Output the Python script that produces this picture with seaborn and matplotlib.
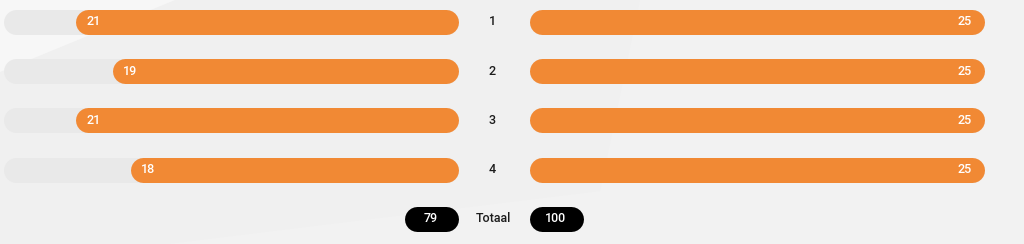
import numpy as np
import pandas as pd
import matplotlib
matplotlib.use("Agg")
import matplotlib.pyplot as plt
from matplotlib.patches import Polygon
from matplotlib.lines import Line2D
from matplotlib.transforms import IdentityTransform
import seaborn as sns

# ---- data ----
rondes = ["1", "2", "3", "4"]
thuis = [21, 19, 21, 18]
uit = [25, 25, 25, 25]
max_score = 25
totaal_label = "Totaal"
totaal_thuis = 79
totaal_uit = 100

# ---- style ----
ORANGE = "#f18934"
TRACK = "#e9e9e9"
BG = "#f2f2f2"
DARK = "#1c1c1c"
FONT = ["Roboto", "DejaVu Sans"]

sns.set_theme(style="white")
plt.rcParams["font.family"] = FONT

W, H = 1024, 244
DPI = 100
fig = plt.figure(figsize=(W / DPI, H / DPI), dpi=DPI)
fig.patch.set_facecolor(BG)

# subtle background facets
fig.patches.append(Polygon(
    np.array([[0, 0], [167, 0], [600, 53], [640, 244], [175, 244], [0, 172]]) / [W, H],
    closed=True, transform=fig.transFigure, facecolor="#f0f0f0", edgecolor="none", zorder=-10))
fig.patches.append(Polygon(
    np.array([[0, 172], [175, 244], [0, 244]]) / [W, H],
    closed=True, transform=fig.transFigure, facecolor="#f7f7f7", edgecolor="none", zorder=-9))

row_px = 49.3
first_px = 21.8
bar_px = 25
ytop = -first_px / row_px
ybot = (H - first_px) / row_px
bar_w = bar_px / row_px

df = pd.DataFrame({"ronde": rondes, "thuis": thuis, "uit": uit,
                   "max": [max_score] * len(rondes)})

axL = fig.add_axes([3 / W, 0, 455 / W, 1])
axR = fig.add_axes([529 / W, 0, 455 / W, 1])

ident = IdentityTransform()


def pill(x0, x1, yc, hpx, color, z):
    """Pill with semicircular ends in display (pixel) coords."""
    l, r = min(x0, x1), max(x0, x1)
    rad = hpx / 2
    return Line2D([l + rad, r - rad], [yc, yc], transform=ident,
                  linewidth=hpx * 72 / DPI, color=color,
                  solid_capstyle="round", zorder=z, clip_on=False)


for ax, col, inv in [(axL, "thuis", True), (axR, "uit", False)]:
    sns.barplot(data=df, x="max", y="ronde", orient="h", color=TRACK,
                width=bar_w, saturation=1, ax=ax)
    sns.barplot(data=df, x=col, y="ronde", orient="h", color=ORANGE,
                width=bar_w, saturation=1, ax=ax)
    ax.set_xlim((max_score, 0) if inv else (0, max_score))
    ax.set_ylim(ybot, ytop)
    ax.axis("off")
    ax.patch.set_alpha(0)

    rects = list(ax.patches)
    for i, p in enumerate(rects):
        x, y, w, h = p.get_x(), p.get_y(), p.get_width(), p.get_height()
        (px0, py0) = ax.transData.transform((x, y))
        (px1, py1) = ax.transData.transform((x + w, y + h))
        ln = pill(px0, px1, (py0 + py1) / 2, abs(py1 - py0), p.get_facecolor(),
                  2 + (i >= len(rondes)))
        p.remove()
        ax.add_line(ln)

    vals = df[col].tolist()
    for i, v in enumerate(vals):
        if inv:
            ax.annotate(str(v), (v, i), xytext=(7.5, 0), textcoords="offset points",
                        ha="left", va="center", color="white", fontsize=9,
                        fontweight="medium", zorder=5)
        else:
            ax.annotate(str(v), (v, i), xytext=(-8.5, 0), textcoords="offset points",
                        ha="right", va="center", color="white", fontsize=9,
                        fontweight="medium", zorder=5)

# center round labels
for i, r in enumerate(rondes):
    yfig = 1 - (first_px + i * row_px) / H
    fig.text(492 / W, yfig, r, ha="center", va="center", color=DARK, fontsize=9,
             fontweight="medium")

# totals row
tot_row = len(rondes)
yfig = 1 - (first_px + tot_row * row_px) / H
fig.text(493.5 / W, yfig, totaal_label, ha="center", va="center", color=DARK,
         fontsize=9, fontweight="medium")

pill_w = 54
for ax, val, anchor in [(axL, totaal_thuis, "right"), (axR, totaal_uit, "left")]:
    x0_px, yc_px = ax.transData.transform((0, tot_row))
    left_px = x0_px - pill_w if anchor == "right" else x0_px
    fig.lines.append(pill(left_px, left_px + pill_w, yc_px, bar_px, "black", 5))
    fig.text((left_px + pill_w / 2) / W, yfig, str(val), ha="center", va="center",
             color="white", fontsize=9, fontweight="medium", zorder=6)

fig.savefig("out.png", dpi=DPI, facecolor=fig.get_facecolor())
